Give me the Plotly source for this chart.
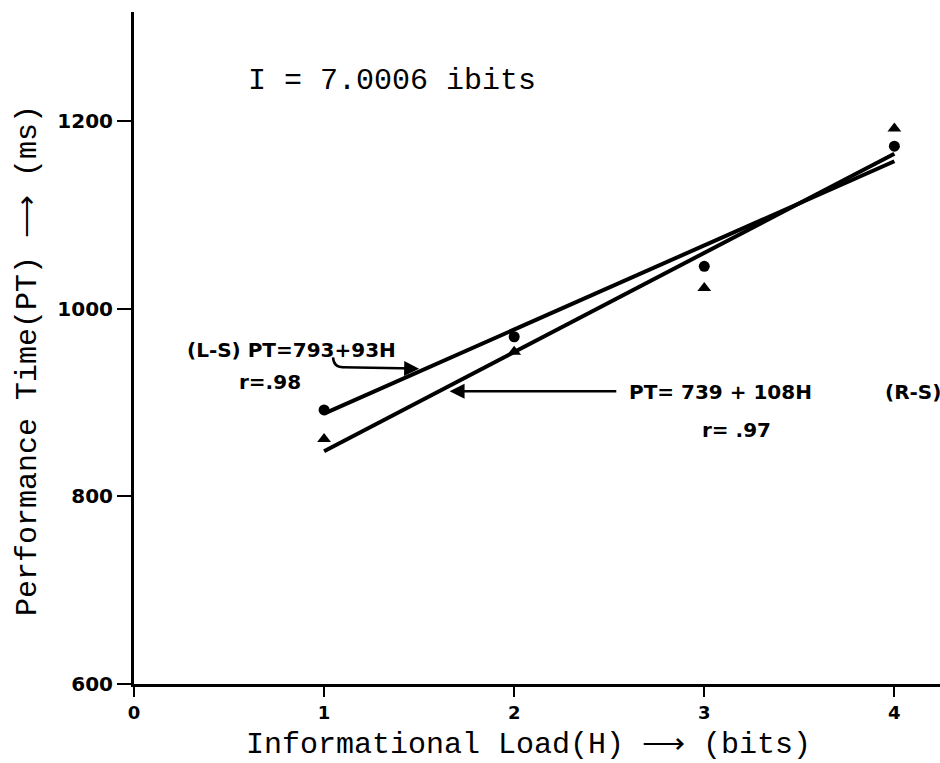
import plotly.graph_objects as go

# ---- data ----
H_points = [1, 2, 3, 4]
ls_pt = [892, 970, 1045, 1173]      # (L-S) circles
rs_pt = [861, 954, 1022, 1192]      # (R-S) triangles
fit_H = [1, 4]
ls_fit = [888, 1157]                # PT = 793 + 93H
rs_fit = [848, 1165]                # PT = 739 + 108H

x_ticks = [0, 1, 2, 3, 4]
x_ticklabels = ["0", "1", "2", "3", "4"]
y_ticks = [600, 800, 1000, 1200]
y_ticklabels = ["600", "800", "1000", "1200"]

fig = go.Figure()

fig.add_trace(go.Scatter(x=fit_H, y=ls_fit, mode="lines",
                         line=dict(color="black", width=4), showlegend=False))
fig.add_trace(go.Scatter(x=fit_H, y=rs_fit, mode="lines",
                         line=dict(color="black", width=4), showlegend=False))
fig.add_trace(go.Scatter(x=H_points, y=ls_pt, mode="markers",
                         marker=dict(symbol="circle", size=11, color="black"),
                         showlegend=False))
fig.add_trace(go.Scatter(x=H_points, y=rs_pt, mode="markers",
                         marker=dict(symbol="triangle-up", size=12, color="black"),
                         showlegend=False))

mono = "Liberation Mono"
hand = "DejaVu Sans"
hfont = dict(family=hand, size=20, color="black", weight="bold")

annotations = [
    dict(x=1.357, y=1243, text="I = 7.0006 ibits", showarrow=False,
         font=dict(family=mono, size=30, color="black")),
    dict(x=0.828, y=956, text="(L-S) PT=793+93H", showarrow=False, font=hfont),
    dict(x=0.715, y=922, text="r=.98", showarrow=False, font=hfont),
    dict(x=3.083, y=911, text="PT= 739 + 108H", showarrow=False, font=hfont),
    dict(x=4.098, y=911, text="(R-S)", showarrow=False, font=hfont),
    dict(x=3.167, y=871, text="r= .97", showarrow=False, font=hfont),
    # arrows
    dict(x=1.50, y=936, ax=1.09, ay=937.5, xref="x", yref="y", axref="x", ayref="y",
         text="", showarrow=True, arrowhead=2, arrowsize=1.2, arrowwidth=2.5,
         arrowcolor="black"),
    dict(x=1.66, y=912, ax=2.545, ay=912, xref="x", yref="y", axref="x", ayref="y",
         text="", showarrow=True, arrowhead=2, arrowsize=1.2, arrowwidth=2.5,
         arrowcolor="black"),
    # axis titles
    dict(x=-0.1315, y=0.4807, xref="paper", yref="paper",
         text="Performance Time(PT) ⟶ (ms)", textangle=-90, showarrow=False,
         xanchor="center", yanchor="middle",
         font=dict(family=mono, size=30, color="black")),
    dict(x=0.49, y=-0.0908, xref="paper", yref="paper",
         text="Informational Load(H) ⟶ (bits)", showarrow=False,
         xanchor="center", yanchor="middle",
         font=dict(family=mono, size=30, color="black")),
]

shapes = [
    dict(type="path", xref="x", yref="y",
         path="M 1.047,948 Q 1.05,937.5 1.10,937.5",
         line=dict(color="black", width=2.5)),
]

fig.update_layout(
    width=940, height=763,
    margin=dict(l=134, r=0, t=12, b=79),
    paper_bgcolor="white", plot_bgcolor="white",
    annotations=annotations, shapes=shapes,
    xaxis=dict(range=[0, 4.24], tickvals=x_ticks, ticktext=x_ticklabels,
               showgrid=False, zeroline=False, showline=True, linewidth=3,
               linecolor="black", ticks="outside", ticklen=10, tickwidth=2,
               tickcolor="black",
               tickfont=dict(family=hand, size=18, color="black", weight="bold")),
    yaxis=dict(range=[600, 1316], tickvals=y_ticks, ticktext=y_ticklabels,
               showgrid=False, zeroline=False, showline=True, linewidth=3,
               linecolor="black", ticks="outside", ticklen=14, tickwidth=2,
               tickcolor="black",
               tickfont=dict(family=hand, size=20, color="black", weight="bold")),
)

fig.write_html("out.html", config={"displayModeBar": False},
               post_script="document.body.style.margin='0';document.body.style.overflow='hidden';")
